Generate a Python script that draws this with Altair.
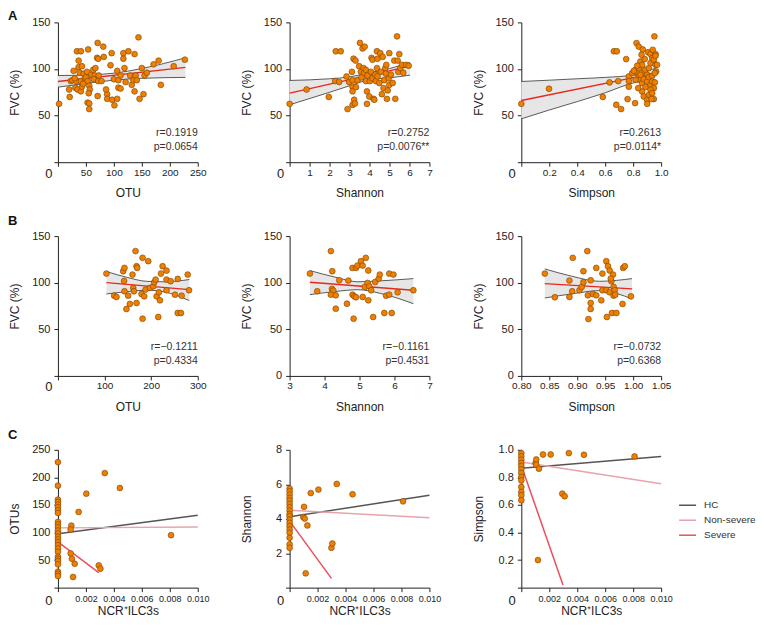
import altair as alt
import pandas as pd

FONT = "Liberation Sans"
ORANGE = "#EE7F00"
EDGE = "#7A4300"
RED = "#E8281E"
BAND = "#E6E6E6"
INK = "#222222"
W = 140

# ---------------- Row A : FVC vs alpha diversity ----------------
a1_otu = [2, 20, 21, 23, 28, 26, 34, 41, 37, 37, 43, 39, 33, 31, 35, 41, 43, 41, 48, 46, 52, 54, 50, 53, 56, 57, 55, 53, 56, 56,
          60, 63, 66, 69, 64, 70, 72, 71, 73, 71, 72, 81, 82, 78, 88, 88, 94, 96, 97, 100, 101, 106, 106, 108, 108, 112, 112,
          117, 117, 119, 121, 126, 129, 132, 135, 137, 137, 139, 141, 144, 146, 150, 153, 155, 159, 171, 180, 184, 207, 227,
          30, 45, 67, 86]
a1_fvc = [62.6, 78, 70, 87, 98, 88, 119, 119, 109, 102, 103, 96, 87, 80, 78, 76, 81, 87, 90, 95, 97, 121, 91, 87, 82, 78, 74, 64, 63, 57,
          94, 99, 93, 89, 89, 112, 111, 128, 93, 71, 87, 124, 113, 87, 73, 68, 104, 117, 67, 89, 61, 68, 98, 88, 80, 79, 93,
          117, 111, 101, 86, 119, 93, 83, 88, 116, 76, 93, 88, 134, 68, 101, 73, 93, 96, 105, 109, 83, 103, 110,
          90, 84, 101, 78]
a1_fit_x = [0, 228]
a1_fit_y = [86.6, 101.7]
a1_band_x = [0, 50, 100, 150, 228]
a1_band_lo = [80.5, 84.5, 88, 90, 91]
a1_band_hi = [93, 93.5, 95.5, 100.5, 112]

a2_shannon = [0, 0.85, 1.96, 2.31, 2.56, 2.28, 2.48, 2.85, 2.9, 2.98, 3.15, 3.23, 3.27, 3.2, 3.3, 3.12, 3.15, 3.15, 3.15, 3.32,
              3.4, 3.48, 3.52, 3.65, 3.76, 3.57, 3.6, 3.7, 3.73, 3.82, 3.82, 3.9, 3.87, 3.87, 3.99, 4.02, 4.07, 4.1, 4.15, 4.15,
              4.2, 4.24, 4.29, 4.32, 4.37, 4.4, 4.37, 4.4, 4.49, 4.54, 4.57, 4.62, 4.66, 4.7, 4.74, 4.79, 4.84, 4.82, 4.87, 4.91,
              4.96, 4.99, 4.99, 5.07, 5.16, 5.24, 5.29, 5.38, 5.41, 5.44, 5.49, 5.54, 5.63, 5.69, 5.83, 5.96]
a2_fvc = [62.6, 78, 70, 119, 119, 87, 86, 92, 57, 86, 61.5, 67, 63, 111, 109, 97, 88, 81, 76, 80.5,
          88, 103, 128, 122, 124, 97, 91, 101, 96, 87, 99, 93, 76, 62.6, 70.5, 87, 97, 112, 110, 90,
          68, 67, 94, 87, 119, 111, 101, 92, 85, 117, 97, 73, 113, 79.5, 88, 101, 104.5, 95, 68, 77,
          90, 117, 83, 94, 85, 109, 68, 135, 109, 97, 116, 101, 104.5, 96, 104.5, 103.5]
a2_fit_x = [0, 6.03]
a2_fit_y = [74, 103]
a2_band_x = [0, 2, 3, 4, 5, 6.03]
a2_band_lo = [61.6, 75, 82, 88.5, 90.5, 93.4]
a2_band_hi = [87.7, 89.5, 91.5, 96, 100.5, 107]

a3_simpson = [0, 0.198, 0.583, 0.631, 0.662, 0.683, 0.679, 0.693, 0.714, 0.75, 0.76, 0.769, 0.769, 0.769, 0.814, 0.824, 0.84,
              0.869, 0.907, 0.924, 0.96, 0.952,
              0.817, 0.829, 0.84, 0.852, 0.864, 0.876, 0.888, 0.9, 0.912, 0.924, 0.936, 0.948, 0.96, 0.964, 0.971,
              0.84, 0.852, 0.864, 0.876, 0.888, 0.9, 0.912, 0.924, 0.936, 0.948, 0.955,
              0.864, 0.876, 0.9, 0.912, 0.924, 0.936, 0.948, 0.9, 0.836, 0.817, 0.793, 0.805, 0.829, 0.852, 0.936, 0.955,
              0.931, 0.96, 0.883, 0.94, 0.86]
a3_fvc = [62.6, 78.8, 70, 85.6, 119, 119, 61.6, 87, 57, 110.6, 67.7, 92, 87, 81, 63.4, 127.8, 124,
          121, 118, 116, 116, 135,
          99.2, 95.6, 101, 108, 104.5, 97.4, 99.2, 93.8, 101, 106.3, 111.7, 110, 104.5, 97.4, 104.5,
          92, 88.4, 84.8, 89.1, 80.6, 86.6, 91.3, 83, 86.6, 79.5, 85.6,
          75.9, 70.5, 67, 72.3, 77.7, 74.1, 67.7, 62.6, 79.5, 88.4, 95.6, 98.1, 103.5, 93.8, 92.7, 95.6,
          67.7, 114.2, 110.6, 120.6, 115.3]
a3_fit_x = [0, 0.96]
a3_fit_y = [66.2, 95.6]
a3_band_x = [0, 0.2, 0.4, 0.6, 0.8, 0.96]
a3_band_lo = [46.5, 56, 65, 74.5, 85, 88]
a3_band_hi = [86.6, 88, 89.5, 91, 93.5, 101]

# ---------------- Row B ----------------
b1_otu = [104, 120.6, 125.6, 140, 142.8, 142, 142.8, 147, 150.7, 154.3, 160, 161.5, 163, 166.5, 168.7, 170, 168.7, 179.4,
          181.6, 181.6, 185.2, 188, 193.8, 197.4, 204.5, 206.7, 209.6, 211.7, 215.3, 216.7, 219, 221, 224.6, 233, 233, 233,
          241.9, 251.2, 257, 257, 264, 265.5, 278.5, 281.3]
b1_fvc = [109.8, 86.1, 84.7, 112.3, 115.9, 101.9, 90.8, 71.8, 86.1, 77.2, 108.7, 94.4, 90.8, 133.9, 117.7, 115.9, 78.2, 87.9,
          126.7, 61.4, 85.4, 92.6, 123.1, 94.4, 96.2, 100.5, 103.4, 85.4, 63.2, 89.7, 81.1, 109.8, 117.7, 113, 91.9, 103.4,
          101.6, 87.2, 104.1, 67.5, 67.5, 86.1, 108.7, 91.9]
b1_fit_x = [104, 282]
b1_fit_y = [100.1, 92.6]
b1_band_x = [104, 150, 190, 230, 282]
b1_band_lo = [87.9, 90.5, 92, 90, 80.8]
b1_band_hi = [112, 105.5, 101.5, 101, 103.4]

b2_shannon = [3.58, 3.79, 4.18, 4.22, 4.21, 4.25, 4.18, 4.32, 4.32, 4.42, 4.64, 4.68, 4.8, 4.8, 4.85, 4.83, 4.9, 4.9, 4.94,
              5.04, 5.09, 5.09, 5.18, 5.15, 5.23, 5.25, 5.28, 5.25, 5.33, 5.39, 5.45, 5.55, 5.58, 5.71, 5.76, 5.85, 5.85,
              5.92, 5.97, 6.09, 6.54]
b2_fvc = [109.8, 90.8, 133.9, 112.3, 93.3, 91.5, 87.2, 86.5, 72.1, 102.6, 77.5, 102.3, 115.9, 87.2, 85.4, 61.4, 115.9, 84.4,
          118.4, 123.1, 118.4, 84.7, 126.7, 95.5, 99.8, 113.1, 96.2, 81.1, 91.9, 63.2, 100.8, 104.4, 108.7, 67.5, 86.1, 87.2,
          109.8, 67.5, 108.7, 89.7, 91.9]
b2_fit_x = [3.58, 6.54]
b2_fit_y = [100.5, 91.9]
b2_band_x = [3.58, 4.3, 4.95, 5.6, 6.54]
b2_band_lo = [87.2, 90.5, 92.5, 88.5, 77.5]
b2_band_hi = [113, 106, 101, 102, 104.4]

b3_simpson = [0.842, 0.86, 0.886, 0.886, 0.891, 0.892, 0.904, 0.908, 0.911, 0.911, 0.918, 0.919, 0.92, 0.924, 0.924, 0.924,
              0.928, 0.934, 0.934, 0.943, 0.945, 0.945, 0.952, 0.952, 0.953, 0.955, 0.958, 0.958, 0.961, 0.962, 0.964,
              0.965, 0.965, 0.967, 0.97, 0.968, 0.981, 0.982, 0.985, 0.996, 0.96]
b3_fvc = [109.8, 84.4, 102.3, 84.7, 90.8, 126.7, 91.9, 95.5, 112.3, 100.5, 133.9, 86.5, 61, 102.6, 78.2, 71.8,
          87.9, 86.5, 115.9, 81.1, 109.8, 91.9, 123.1, 91.9, 63.2, 117.7, 113.1, 89.7, 101.6, 67.5, 108.7,
          95.5, 86.1, 91.9, 67.5, 87.2, 77.2, 115.9, 117.7, 85.4, 104.4]
b3_fit_x = [0.842, 0.998]
b3_fit_y = [99.1, 93.3]
b3_band_x = [0.842, 0.89, 0.94, 0.97, 0.998]
b3_band_lo = [83.6, 88, 91.5, 88.5, 82.5]
b3_band_hi = [114.8, 107, 101.5, 102.5, 104.4]

# ---------------- Row C : diversity vs NCR+ILC3s ----------------
c1_ncr = [0.00096, 0.00091, 0.00091, 0.001, 0.0012, 0.00108, 0.00148, 0.00203, 0.00292, 0.00304, 0.00335, 0.00443, 0.00809] + [0] * 26
c1_otus = [112.6, 105.4, 62, 52.4, 43.4, 19.3, 137.3, 170.5, 40.4, 34.3, 207.8, 180.7, 95.2,
           227.7, 185, 159.6, 155.4, 150.6, 145.8, 140.4, 135.5, 119.3, 114.5, 109.6, 103.6, 98.2, 92.2, 87.3, 82.5, 77.1,
           71.1, 65.1, 56, 52.4, 48.2, 42.2, 28.9, 25.3, 21.1]
c2_ncr = [0.00103, 0.00098, 0.00108, 0.00115, 0.00127, 0.00151, 0.00206, 0.00299, 0.00306, 0.00337, 0.0045, 0.00811] + [0] * 18
c2_shannon = [4.69, 4.09, 4.01, 0.83, 3.61, 5.49, 5.69, 2.31, 2.56, 6.02, 5.42, 5.01,
              5.75, 5.59, 5.40, 5.21, 5.05, 4.86, 4.67, 4.47, 4.28, 4.15, 3.95, 3.76, 3.57, 3.37, 3.18, 2.89, 2.51, 2.31]
c3_ncr = [0.00102, 0.00107, 0.00107, 0.00126, 0.00119, 0.00155, 0.0021, 0.00293, 0.0031, 0.0034, 0.00448, 0.0081] + [0] * 13
c3_simpson = [0.904, 0.930, 0.892, 0.863, 0.2, 0.966, 0.966, 0.682, 0.663, 0.976, 0.964, 0.952,
              0.976, 0.952, 0.928, 0.904, 0.882, 0.858, 0.831, 0.802, 0.778, 0.730, 0.694, 0.67, 0.634]

groups = ["HC", "Non-severe", "Severe"]
group_colors = ["#555555", "#E8A3AB", "#EA4F5E"]
line_group = ["HC", "HC", "Non-severe", "Non-severe", "Severe", "Severe"]
c1_line_x = [0, 0.01, 0, 0.01, 0, 0.00292]
c1_line_y = [97.6, 131.3, 108.4, 110.2, 83.1, 27.1]
c2_line_x = [0, 0.01, 0, 0.01, 0, 0.00299]
c2_line_y = [4.11, 5.36, 4.49, 4.05, 3.86, 0.54]
c3_line_x = [0, 0.01, 0, 0.01, 0, 0.00298]
c3_line_y = [0.867, 0.952, 0.911, 0.754, 0.887, 0.019]

ZERO = "datum.value == 0"


def x_axis(values, title, fmt, label_size, title_y, pad):
    return alt.Axis(
        values=values, title=title, labelPadding=pad,
        labelExpr=f"{ZERO} ? '0' : format(datum.value, '{fmt}')",
        labelFontSize={"condition": {"test": ZERO, "value": 13}, "value": label_size},
        labelAlign={"condition": {"test": ZERO, "value": "right"}, "value": "center"},
        labelOffset={"condition": {"test": ZERO, "value": -6}, "value": 0},
        titleX=W / 2, titleY=title_y, titleBaseline="middle", titleAlign="center",
    )


def y_axis(values, title, fmt, hide_zero, h):
    lab = f"format(datum.value, '{fmt}')"
    expr = f"{ZERO} ? '' : {lab}" if hide_zero else lab
    return alt.Axis(values=values, title=title, labelExpr=expr, labelFontSize=11, labelPadding=4,
                    titleX=-43, titleY=h / 2, titleBaseline="middle", titleAlign="center", titleAngle=270)


def letter_layer(letter, y):
    return alt.Chart(pd.DataFrame({"t": [letter]})).mark_text(
        align="left", baseline="middle", fontSize=13, fontWeight="bold", font=FONT, color="#111"
    ).encode(x=alt.value(-50), y=alt.value(y), text="t:N")


def reg_panel(xs, ys, fx, fy, bx, blo, bhi, xdom, xvals, xfmt, xtitle, hide_y0, r_txt, p_txt, letter=None, title_y=30):
    H = 140
    xsc = alt.Scale(domain=xdom, nice=False, zero=False)
    ysc = alt.Scale(domain=[0, 150], nice=False)
    xax = x_axis(xvals, xtitle, xfmt, 10, title_y, 1)
    yax = y_axis([0, 50, 100, 150], "FVC (%)", "d", hide_y0, H)

    def X():
        return alt.X("x:Q", scale=xsc, axis=xax)

    def Y(f):
        return alt.Y(f"{f}:Q", scale=ysc, axis=yax)

    band = pd.DataFrame({"x": bx, "lo": blo, "hi": bhi})
    fit = pd.DataFrame({"x": fx, "y": fy})
    pts = pd.DataFrame({"x": xs, "y": ys})
    layers = [
        alt.Chart(band).mark_area(color=BAND, opacity=1, interpolate="monotone").encode(x=X(), y=Y("lo"), y2="hi:Q"),
        alt.Chart(band).mark_line(color="#333333", strokeWidth=0.8, interpolate="monotone").encode(x=X(), y=Y("lo")),
        alt.Chart(band).mark_line(color="#333333", strokeWidth=0.8, interpolate="monotone").encode(x=X(), y=Y("hi")),
        alt.Chart(fit).mark_line(color=RED, strokeWidth=1.3).encode(x=X(), y=Y("y")),
        alt.Chart(pts).mark_circle(size=34, color=ORANGE, opacity=1, stroke=EDGE, strokeWidth=0.6).encode(x=X(), y=Y("y")),
        alt.Chart(pd.DataFrame({"t": [r_txt]})).mark_text(align="right", baseline="middle", fontSize=10.5, font=FONT,
                                                          color="#333").encode(x=alt.value(W), y=alt.value(111), text="t:N"),
        alt.Chart(pd.DataFrame({"t": [p_txt]})).mark_text(align="right", baseline="middle", fontSize=10.5, font=FONT,
                                                          color="#333").encode(x=alt.value(W), y=alt.value(125), text="t:N"),
    ]
    if letter:
        layers.append(letter_layer(letter, -6 if letter == "A" else -15))
    return alt.layer(*layers).properties(width=W, height=H)


def c_panel(xs, ys, lx, ly, ydom, yvals, yfmt, ytitle, show_legend, letter=None):
    H = 138
    xsc = alt.Scale(domain=[0, 0.01], nice=False)
    ysc = alt.Scale(domain=ydom, nice=False)
    xax = x_axis([0, 0.002, 0.004, 0.006, 0.008, 0.01], "NCR\u207aILC3s", ".3f", 9, 23, 3)
    yax = y_axis(yvals, ytitle, yfmt, True, H)
    if show_legend:
        leg = alt.Legend(orient="none", legendX=157, legendY=46, title=None, symbolType="stroke", symbolSize=289,
                         symbolStrokeWidth=1.5, labelFontSize=10, labelFont=FONT, labelColor="#333",
                         rowPadding=0, padding=0, labelOffset=7)
    else:
        leg = None
    lines = pd.DataFrame({"g": line_group, "x": lx, "y": ly})
    pts = pd.DataFrame({"x": xs, "y": ys})
    layers = [
        alt.Chart(lines).mark_line(strokeWidth=1.5).encode(
            x=alt.X("x:Q", scale=xsc, axis=xax), y=alt.Y("y:Q", scale=ysc, axis=yax),
            color=alt.Color("g:N", scale=alt.Scale(domain=groups, range=group_colors), legend=leg)),
        alt.Chart(pts).mark_circle(size=34, color=ORANGE, opacity=1, stroke=EDGE, strokeWidth=0.6).encode(
            x=alt.X("x:Q", scale=xsc, axis=xax), y=alt.Y("y:Q", scale=ysc, axis=yax)),
    ]
    if letter:
        layers.append(letter_layer(letter, -15))
    return alt.layer(*layers).properties(width=W, height=H)


a1 = reg_panel(a1_otu, a1_fvc, a1_fit_x, a1_fit_y, a1_band_x, a1_band_lo, a1_band_hi, [0, 250],
               [0, 50, 100, 150, 200, 250], "d", "OTU", True, "r=0.1919", "p=0.0654", "A")
a2 = reg_panel(a2_shannon, a2_fvc, a2_fit_x, a2_fit_y, a2_band_x, a2_band_lo, a2_band_hi, [0, 7],
               [0, 1, 2, 3, 4, 5, 6, 7], "d", "Shannon", True, "r=0.2752", "p=0.0076**")
a3 = reg_panel(a3_simpson, a3_fvc, a3_fit_x, a3_fit_y, a3_band_x, a3_band_lo, a3_band_hi, [0, 1],
               [0, 0.2, 0.4, 0.6, 0.8, 1.0], ".1f", "Simpson", True, "r=0.2613", "p=0.0114*")
b1 = reg_panel(b1_otu, b1_fvc, b1_fit_x, b1_fit_y, b1_band_x, b1_band_lo, b1_band_hi, [0, 300],
               [0, 100, 200, 300], "d", "OTU", True, "r=\u22120.1211", "p=0.4334", "B", title_y=31)
b2 = reg_panel(b2_shannon, b2_fvc, b2_fit_x, b2_fit_y, b2_band_x, b2_band_lo, b2_band_hi, [3, 7],
               [3, 4, 5, 6, 7], "d", "Shannon", False, "r=\u22120.1161", "p=0.4531", title_y=31)
b3 = reg_panel(b3_simpson, b3_fvc, b3_fit_x, b3_fit_y, b3_band_x, b3_band_lo, b3_band_hi, [0.8, 1.05],
               [0.8, 0.85, 0.9, 0.95, 1.0, 1.05], ".2f", "Simpson", False, "r=\u22120.0732", "p=0.6368", title_y=31)
c1 = c_panel(c1_ncr, c1_otus, c1_line_x, c1_line_y, [0, 250], [0, 50, 100, 150, 200, 250], "d", "OTUs", False, "C")
c2 = c_panel(c2_ncr, c2_shannon, c2_line_x, c2_line_y, [0, 8], [0, 2, 4, 6, 8], "d", "Shannon", False)
c3 = c_panel(c3_ncr, c3_simpson, c3_line_x, c3_line_y, [0, 1], [0, 0.2, 0.4, 0.6, 0.8, 1.0], ".1f", "Simpson", True)

chart = alt.concat(a1, a2, a3, b1, b2, b3, c1, c2, c3, columns=3,
                   spacing={"row": 74, "column": 92}, bounds="flush").resolve_scale(
    color="independent").resolve_legend(color="independent").properties(
    padding={"left": 0, "top": 2, "right": 0, "bottom": 0}
).configure_view(stroke=None).configure_axis(
    domainColor=INK, tickColor=INK, labelColor=INK, titleColor=INK, labelFont=FONT, titleFont=FONT,
    titleFontSize=12, titleFontWeight="normal", tickSize=4, grid=False, domainWidth=1, tickWidth=1
).configure_text(font=FONT)

chart.save("out.html", embed_options={"renderer": "svg", "actions": False})
